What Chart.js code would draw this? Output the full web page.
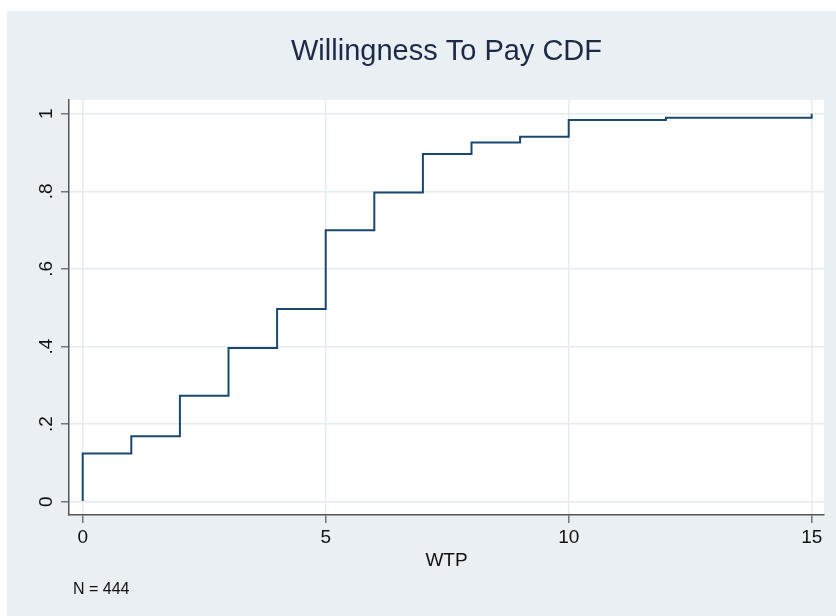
<!DOCTYPE html>
<html>
<head>
<meta charset="utf-8">
<title>Willingness To Pay CDF</title>
<script src="https://cdn.jsdelivr.net/npm/chart.js@4.4.1/dist/chart.umd.min.js"></script>
<style>
  body { margin: 0; background: #fff; }
  canvas { display: block; }
</style>
</head>
<body>
<canvas id="cdfChart" width="836" height="616"></canvas>
<script>
// data
const wtpValues = [0, 0, 1, 2, 3, 4, 5, 6, 7, 8, 9, 10, 12, 15];
const cdfValues = [0.002, 0.124, 0.169, 0.273, 0.396, 0.497, 0.700, 0.797, 0.896, 0.926, 0.941, 0.984, 0.990, 1.0];
const xTicks = [0, 5, 10, 15];
const yTicks = [0, 0.2, 0.4, 0.6, 0.8, 1];
const yTickLabels = ['0', '.2', '.4', '.6', '.8', '1'];
const noteText = 'N = 444';

const FONT = '"Liberation Sans", Arial, Helvetica, sans-serif';

const backgroundPlugin = {
  id: 'stataBackground',
  beforeDraw(chart) {
    const { ctx, width, height, chartArea } = chart;
    ctx.save();
    ctx.fillStyle = '#ffffff';
    ctx.fillRect(0, 0, width, height);
    ctx.fillStyle = '#e9eff2';
    ctx.fillRect(7, 11, width - 7, height - 11);
    ctx.fillStyle = '#ffffff';
    ctx.fillRect(chartArea.left, chartArea.top, chartArea.right - chartArea.left, chartArea.bottom - chartArea.top);
    ctx.restore();
  }
};

// y tick labels are turned on their side, like Stata does
const sideLabelsPlugin = {
  id: 'sideLabels',
  afterDraw(chart) {
    const ctx = chart.ctx;
    const yScale = chart.scales.y;
    ctx.save();
    ctx.fillStyle = '#111111';
    ctx.font = '19px ' + FONT;
    ctx.textAlign = 'center';
    ctx.textBaseline = 'alphabetic';
    yTicks.forEach((v, i) => {
      ctx.save();
      ctx.translate(52, yScale.getPixelForValue(v));
      ctx.rotate(-Math.PI / 2);
      ctx.fillText(yTickLabels[i], 0, 0);
      ctx.restore();
    });
    ctx.font = '16px ' + FONT;
    ctx.textAlign = 'left';
    ctx.fillText(noteText, 73, 594);
    ctx.restore();
  }
};

new Chart(document.getElementById('cdfChart').getContext('2d'), {
  type: 'line',
  data: {
    datasets: [{
      label: 'WTP',
      data: wtpValues.map((x, i) => ({ x: x, y: cdfValues[i] })),
      borderColor: '#1a476f',
      borderWidth: 2,
      stepped: 'before',
      pointRadius: 0,
      fill: false
    }]
  },
  options: {
    responsive: false,
    animation: false,
    layout: { padding: { left: 0, top: 0, right: 12, bottom: 0 } },
    plugins: {
      legend: { display: false },
      tooltip: { enabled: false },
      title: {
        display: true,
        fullSize: false,
        text: 'Willingness To Pay CDF',
        color: '#1c2a48',
        font: { family: FONT, size: 29, weight: 'normal' },
        padding: { top: 35, bottom: 30 }
      }
    },
    scales: {
      x: {
        type: 'linear',
        min: -0.282,
        max: 15.253,
        afterBuildTicks: scale => { scale.ticks = xTicks.map(v => ({ value: v })); },
        afterFit: scale => { scale.height = 101; },
        ticks: {
          color: '#111111',
          font: { family: FONT, size: 19 },
          padding: 3,
          maxRotation: 0
        },
        grid: { color: '#e4ecef', lineWidth: 1.5, tickColor: '#777777', tickLength: 8 },
        border: { color: '#555555', width: 1.5 },
        title: {
          display: true,
          text: 'WTP',
          color: '#111111',
          font: { family: FONT, size: 19 },
          padding: { top: 0, bottom: 44 }
        }
      },
      y: {
        type: 'linear',
        min: -0.0343,
        max: 1.036,
        afterBuildTicks: scale => { scale.ticks = yTicks.map(v => ({ value: v })); },
        afterFit: scale => { scale.width = 69; },
        ticks: { display: false },
        grid: { color: '#e4ecef', lineWidth: 1.5, tickColor: '#777777', tickLength: 8 },
        border: { color: '#555555', width: 1.5 }
      }
    }
  },
  plugins: [backgroundPlugin, sideLabelsPlugin]
});
</script>
</body>
</html>
